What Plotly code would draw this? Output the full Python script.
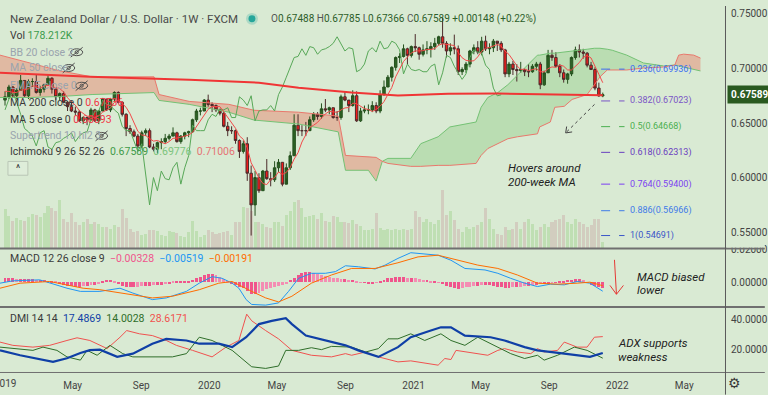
import plotly.graph_objects as go
import pandas as pd

BG = "#d9ead3"
FONT = "Roboto, 'Noto Sans', sans-serif"

# ---------------- weekly NZD/USD candles (first bar = week of 2018-12-31) ----------------
first_open = 0.6710
close = [
    0.6740, 0.6830, 0.6750, 0.6800, 0.6890, 0.6750, 0.6880, 0.6880, 0.6780, 0.6810,
    0.6850, 0.6910, 0.6810, 0.6740, 0.6770, 0.6690, 0.6650, 0.6610, 0.6600, 0.6520,
    0.6550, 0.6530, 0.6620, 0.6520, 0.6610, 0.6720, 0.6620, 0.6720, 0.6780, 0.6690,
    0.6580, 0.6450, 0.6420, 0.6380, 0.6290, 0.6410, 0.6430, 0.6280, 0.6260, 0.6320,
    0.6330, 0.6360, 0.6380, 0.6410, 0.6330, 0.6380, 0.6410, 0.6420, 0.6530, 0.6610,
    0.6610, 0.6710, 0.6670, 0.6660, 0.6620, 0.6590, 0.6470, 0.6430, 0.6430, 0.6340,
    0.6240, 0.6310, 0.6040, 0.5750, 0.6000, 0.5880, 0.6060, 0.5990, 0.5980, 0.6090,
    0.6140, 0.5940, 0.6090, 0.6200, 0.6480, 0.6430, 0.6430, 0.6430, 0.6530, 0.6580,
    0.6560, 0.6630, 0.6620, 0.6640, 0.6550, 0.6550, 0.6740, 0.6710, 0.6660, 0.6750,
    0.6520, 0.6610, 0.6620, 0.6620, 0.6660, 0.6610, 0.6760, 0.6830, 0.6920, 0.7010,
    0.7100, 0.7110, 0.7180, 0.7120, 0.7200, 0.7190, 0.7130, 0.7170, 0.7180, 0.7200,
    0.7230, 0.7290, 0.7230, 0.7160, 0.7190, 0.7180, 0.6970, 0.6990, 0.7040, 0.7160,
    0.7190, 0.7150, 0.7250, 0.7180, 0.7190, 0.7250, 0.7230, 0.7170, 0.6950, 0.7040,
    0.6990, 0.6980, 0.6990, 0.6970, 0.6970, 0.7020, 0.7040, 0.6850, 0.6960, 0.7120,
    0.7100, 0.7020, 0.6960, 0.6900, 0.6950, 0.7100, 0.7170, 0.7150, 0.7140, 0.7030,
    0.6990, 0.6820, 0.67488, 0.67589,
]
high = [
    0.6790, 0.6850, 0.6840, 0.6820, 0.6940, 0.6890, 0.6900, 0.6910, 0.6940, 0.6840,
    0.6860, 0.6940, 0.6920, 0.6830, 0.6780, 0.6790, 0.6700, 0.6700, 0.6650, 0.6620,
    0.6560, 0.6560, 0.6640, 0.6630, 0.6620, 0.6730, 0.6720, 0.6730, 0.6790, 0.6790,
    0.6700, 0.6590, 0.6480, 0.6440, 0.6400, 0.6430, 0.6450, 0.6450, 0.6310, 0.6330,
    0.6360, 0.6400, 0.6400, 0.6460, 0.6420, 0.6390, 0.6420, 0.6430, 0.6540, 0.6630,
    0.6640, 0.6720, 0.6760, 0.6690, 0.6670, 0.6630, 0.6600, 0.6510, 0.6470, 0.6440,
    0.6350, 0.6340, 0.6370, 0.6110, 0.6060, 0.6040, 0.6070, 0.6170, 0.6050, 0.6150,
    0.6170, 0.6140, 0.6130, 0.6240, 0.6580, 0.6580, 0.6480, 0.6510, 0.6560, 0.6600,
    0.6600, 0.6680, 0.6720, 0.6650, 0.6640, 0.6610, 0.6760, 0.6790, 0.6700, 0.6800,
    0.6790, 0.6640, 0.6660, 0.6670, 0.6700, 0.6690, 0.6800, 0.6890, 0.6940, 0.7020,
    0.7110, 0.7140, 0.7220, 0.7190, 0.7210, 0.7315, 0.7200, 0.7220, 0.7250, 0.7240,
    0.7280, 0.7300, 0.7465, 0.7250, 0.7230, 0.7310, 0.7210, 0.7010, 0.7060, 0.7170,
    0.7220, 0.7250, 0.7290, 0.7300, 0.7230, 0.7270, 0.7250, 0.7250, 0.7180, 0.7060,
    0.7070, 0.7040, 0.7060, 0.7000, 0.7040, 0.7040, 0.7060, 0.7060, 0.6980, 0.7170,
    0.7170, 0.7150, 0.7040, 0.6990, 0.6960, 0.7110, 0.7200, 0.7220, 0.7180, 0.7150,
    0.7060, 0.7010, 0.6870, 0.67785,
]
low = [
    0.6660, 0.6720, 0.6730, 0.6720, 0.6800, 0.6740, 0.6720, 0.6830, 0.6770, 0.6750,
    0.6780, 0.6840, 0.6770, 0.6710, 0.6710, 0.6680, 0.6610, 0.6600, 0.6570, 0.6510,
    0.6490, 0.6480, 0.6520, 0.6510, 0.6490, 0.6610, 0.6610, 0.6600, 0.6700, 0.6680,
    0.6560, 0.6380, 0.6400, 0.6370, 0.6270, 0.6270, 0.6380, 0.6270, 0.6240, 0.6220,
    0.6260, 0.6310, 0.6340, 0.6380, 0.6320, 0.6310, 0.6350, 0.6370, 0.6410, 0.6510,
    0.6570, 0.6610, 0.6650, 0.6600, 0.6600, 0.6570, 0.6460, 0.6380, 0.6400, 0.6310,
    0.6180, 0.6220, 0.5970, 0.5469, 0.5650, 0.5860, 0.5880, 0.5980, 0.5920, 0.5960,
    0.6050, 0.5920, 0.5990, 0.6070, 0.6200, 0.6380, 0.6380, 0.6380, 0.6430, 0.6510,
    0.6530, 0.6540, 0.6600, 0.6580, 0.6540, 0.6520, 0.6530, 0.6700, 0.6600, 0.6650,
    0.6510, 0.6510, 0.6590, 0.6580, 0.6600, 0.6590, 0.6590, 0.6750, 0.6830, 0.6880,
    0.6980, 0.7050, 0.7100, 0.7040, 0.7100, 0.7150, 0.7080, 0.7110, 0.7130, 0.7100,
    0.7170, 0.7210, 0.7190, 0.7100, 0.7120, 0.7130, 0.6940, 0.6940, 0.6960, 0.7010,
    0.7130, 0.7130, 0.7120, 0.7160, 0.7130, 0.7150, 0.7160, 0.7150, 0.6920, 0.6920,
    0.6940, 0.6880, 0.6960, 0.6930, 0.6920, 0.6960, 0.6980, 0.6810, 0.6840, 0.6970,
    0.7070, 0.7010, 0.6920, 0.6870, 0.6860, 0.6930, 0.7080, 0.7100, 0.7090, 0.7010,
    0.6990, 0.6800, 0.6740, 0.67366,
]
volume_k = [
    1179, 981, 831, 900, 861, 819, 930, 1029, 999, 930,
    1080, 1281, 1230, 1131, 1461, 879, 801, 1059, 780, 699,
    780, 879, 729, 780, 729, 630, 630, 579, 699, 630,
    1200, 900, 579, 501, 531, 381, 429, 561, 561, 531,
    399, 360, 531, 501, 459, 360, 330, 480, 831, 531,
    330, 399, 561, 480, 429, 459, 480, 531, 381, 801,
    780, 1260, 1230, 1131, 801, 780, 729, 630, 600, 801,
    780, 681, 999, 1131, 1401, 1461, 1230, 930, 960, 999,
    879, 1059, 831, 780, 960, 930, 780, 801, 759, 861,
    729, 660, 561, 561, 579, 1080, 600, 540, 570, 540,
    570, 540, 570, 540, 570, 1140, 930, 780, 870, 780,
    720, 840, 1770, 990, 1140, 840, 570, 480, 630, 570,
    630, 690, 780, 1230, 870, 570, 420, 390, 630, 540,
    570, 780, 570, 780, 870, 720, 540, 630, 720, 630,
    780, 840, 870, 990, 780, 720, 870, 780, 720, 630,
    690, 870, 870, 178.212,
]
ma5 = [
    0.6790, 0.6790, 0.6780, 0.6780, 0.6802, 0.6804, 0.6814, 0.6840, 0.6836, 0.6820,
    0.6840, 0.6846, 0.6832, 0.6824, 0.6816, 0.6784, 0.6732, 0.6692, 0.6664, 0.6614,
    0.6586, 0.6562, 0.6564, 0.6548, 0.6566, 0.6600, 0.6618, 0.6638, 0.6690, 0.6706,
    0.6678, 0.6644, 0.6584, 0.6504, 0.6424, 0.6390, 0.6386, 0.6358, 0.6334, 0.6340,
    0.6324, 0.6310, 0.6330, 0.6360, 0.6362, 0.6372, 0.6382, 0.6390, 0.6414, 0.6470,
    0.6516, 0.6576, 0.6626, 0.6652, 0.6654, 0.6650, 0.6602, 0.6554, 0.6508, 0.6452,
    0.6382, 0.6350, 0.6272, 0.6136, 0.6068, 0.5996, 0.5946, 0.5936, 0.5982, 0.6000,
    0.6052, 0.6028, 0.6048, 0.6092, 0.6170, 0.6228, 0.6326, 0.6394, 0.6460, 0.6480,
    0.6506, 0.6546, 0.6584, 0.6606, 0.6600, 0.6598, 0.6620, 0.6638, 0.6642, 0.6682,
    0.6676, 0.6650, 0.6632, 0.6624, 0.6606, 0.6624, 0.6654, 0.6696, 0.6756, 0.6826,
    0.6924, 0.6994, 0.7064, 0.7104, 0.7142, 0.7160, 0.7164, 0.7162, 0.7174, 0.7174,
    0.7182, 0.7214, 0.7226, 0.7222, 0.7220, 0.7210, 0.7146, 0.7098, 0.7074, 0.7068,
    0.7070, 0.7106, 0.7158, 0.7186, 0.7192, 0.7204, 0.7220, 0.7204, 0.7158, 0.7128,
    0.7076, 0.7026, 0.6990, 0.6994, 0.6980, 0.6986, 0.6998, 0.6970, 0.6968, 0.6998,
    0.7014, 0.7010, 0.7032, 0.7020, 0.6986, 0.6986, 0.7016, 0.7054, 0.7102, 0.7118,
    0.7096, 0.7026, 0.6946, 0.68693,
]

# ---------------- MA 200 (sampled vertices) ----------------
ma200_dates = ['2018-12-22', '2019-06-01', '2019-11-26', '2020-03-30', '2020-06-09', '2020-09-12',
               '2020-12-04', '2021-03-04', '2021-06-01', '2021-09-01', '2021-11-29', '2021-12-06']
ma200 = [0.6960, 0.6923, 0.6896, 0.6869, 0.6824, 0.6779, 0.6752, 0.6768, 0.6770, 0.6762, 0.6753, 0.67536]

# ---------------- Ichimoku cloud (leading spans, vertices) ----------------
kumo_dates = ['2018-12-22', '2019-02-14', '2019-04-09', '2019-06-05', '2019-09-24', '2019-10-03',
              '2019-11-26', '2020-02-05', '2020-03-21', '2020-06-09', '2020-08-19', '2020-09-01',
              '2020-10-12', '2020-10-26', '2020-11-06', '2020-11-16', '2020-12-27', '2021-01-14',
              '2021-02-14', '2021-03-07', '2021-04-23', '2021-05-02', '2021-05-14', '2021-06-01',
              '2021-06-19', '2021-07-06', '2021-08-11', '2021-08-15', '2021-09-03', '2021-09-11',
              '2021-09-28', '2021-10-12', '2021-11-08', '2021-11-21', '2021-12-01', '2021-12-14',
              '2021-12-23', '2022-01-18', '2022-02-17', '2022-03-25', '2022-04-14', '2022-04-21',
              '2022-04-30', '2022-05-18', '2022-05-30']
span_a = [0.6734, 0.6734, 0.6743, 0.6761, 0.6779, 0.6707,
          0.6671, 0.6599, 0.6527, 0.6491, 0.6419, 0.6067,
          0.6067, 0.5968, 0.6149, 0.6176, 0.6176, 0.6311,
          0.6374, 0.6464, 0.6509, 0.6644, 0.6734, 0.6779,
          0.6851, 0.6941, 0.7122, 0.7122, 0.7140, 0.7140,
          0.7149, 0.7158, 0.7176, 0.7185, 0.7185, 0.7176,
          0.7167, 0.7122, 0.7050, 0.7023, 0.7031, 0.7023,
          0.7013, 0.6995, 0.6977]
span_b = [0.7122, 0.7050, 0.6977, 0.6923, 0.6923, 0.6761,
          0.6698, 0.6671, 0.6617, 0.6599, 0.6563, 0.6203,
          0.6194, 0.6185, 0.6149, 0.6130, 0.6103, 0.6103,
          0.6112, 0.6112, 0.6130, 0.6203, 0.6266, 0.6311,
          0.6356, 0.6374, 0.6401, 0.6464, 0.6509, 0.6644,
          0.6653, 0.6716, 0.6761, 0.6851, 0.6923, 0.6986,
          0.6986, 0.6986, 0.7004, 0.7013, 0.7031, 0.7122,
          0.7131, 0.7122, 0.7095]
lag_shift = 26

# ---------------- MACD 12 26 9 ----------------
macd_dates = ['2018-12-22', '2019-01-14', '2019-03-03', '2019-04-21', '2019-05-15', '2019-06-19',
              '2019-07-25', '2019-08-17', '2019-09-21', '2019-10-16', '2019-11-21', '2019-12-14',
              '2020-01-06', '2020-01-24', '2020-02-11', '2020-02-23', '2020-03-07', '2020-03-17',
              '2020-04-11', '2020-05-04', '2020-05-22', '2020-06-09', '2020-07-02', '2020-07-27',
              '2020-08-14', '2020-09-01', '2020-09-24', '2020-10-24', '2020-11-11', '2020-12-04',
              '2020-12-27', '2021-02-14', '2021-03-09', '2021-04-03', '2021-05-09', '2021-06-01',
              '2021-06-24', '2021-07-19', '2021-08-11', '2021-09-03', '2021-09-28', '2021-10-21',
              '2021-11-13', '2021-12-06']
macd_line = [-0.0004, 0.0010, 0.0016, -0.0034, -0.0053, -0.0053,
             -0.0034, -0.0063, -0.0102, -0.0092, -0.0053, -0.0004,
             0.0035, 0.0025, -0.0004, -0.0034, -0.0102, -0.0131,
             -0.0135, -0.0122, -0.0053, 0.0025, 0.0055, 0.0055,
             0.0065, 0.0100, 0.0094, 0.0081, 0.0104, 0.0144,
             0.0178, 0.0163, 0.0133, 0.0084, 0.0075, 0.0055,
             0.0025, -0.0004, -0.0024, -0.0010, -0.0014, 0.0006,
             -0.0004, -0.00519]
signal_dates = ['2018-12-22', '2019-01-27', '2019-03-21', '2019-05-20', '2019-06-19', '2019-08-17',
                '2019-09-21', '2019-10-27', '2019-12-14', '2020-01-18', '2020-02-11', '2020-03-17',
                '2020-04-11', '2020-05-04', '2020-05-28', '2020-07-02', '2020-08-07', '2020-09-12',
                '2020-10-24', '2020-12-04', '2021-01-09', '2021-02-14', '2021-04-03', '2021-04-26',
                '2021-06-01', '2021-07-06', '2021-08-11', '2021-09-16', '2021-10-21', '2021-11-13',
                '2021-12-06']
signal_line = [-0.0034, -0.0004, 0.0006, -0.0034, -0.0043, -0.0072,
               -0.0092, -0.0082, -0.0043, -0.0004, 0.0006, -0.0053,
               -0.0092, -0.0116, -0.0082, -0.0004, 0.0045, 0.0084,
               0.0084, 0.0118, 0.0153, 0.0163, 0.0123, 0.0104,
               0.0084, 0.0045, -0.0004, -0.0010, -0.0004, 0.0002,
               -0.00191]
macd_hist = [
    0.0024, 0.0024, 0.0024, 0.0018, 0.0018, 0.0018, 0.0018, 0.0018, 0.0012, 0.0012,
    0.0012, 0.0006, 0.0006, 0.0003, -0.0006, -0.0012, -0.0018, -0.0018, -0.0024, -0.0024,
    -0.0018, -0.0018, -0.0012, -0.0012, -0.0006, 0.0006, 0.0012, 0.0012, 0.0006, -0.0006,
    -0.0018, -0.0029, -0.0029, -0.0029, -0.0024, -0.0018, -0.0018, -0.0018, -0.0012, -0.0012,
    -0.0012, -0.0006, -0.0006, 0.0003, 0.0006, 0.0006, 0.0006, 0.0006, 0.0012, 0.0024,
    0.0035, 0.0047, 0.0053, 0.0053, 0.0047, 0.0035, 0.0018, 0.0006, -0.0006, -0.0012,
    -0.0024, -0.0035, -0.0053, -0.0071, -0.0071, -0.0065, -0.0053, -0.0041, -0.0035, -0.0024,
    -0.0018, -0.0012, -0.0006, 0.0012, 0.0029, 0.0047, 0.0059, 0.0065, 0.0065, 0.0059,
    0.0053, 0.0047, 0.0041, 0.0035, 0.0029, 0.0024, 0.0018, 0.0018, 0.0012, 0.0012,
    0.0006, 0.0001, -0.0001, -0.0006, -0.0006, 0.0001, 0.0006, 0.0012, 0.0024, 0.0029,
    0.0035, 0.0035, 0.0035, 0.0029, 0.0029, 0.0024, 0.0018, 0.0012, 0.0012, 0.0006,
    0.0006, 0.0001, -0.0006, -0.0018, -0.0029, -0.0035, -0.0041, -0.0035, -0.0029, -0.0024,
    -0.0018, -0.0018, -0.0012, -0.0012, -0.0012, -0.0018, -0.0024, -0.0029, -0.0035, -0.0035,
    -0.0029, -0.0029, -0.0024, -0.0018, -0.0018, -0.0012, -0.0012, -0.0006, -0.0006, -0.0006,
    -0.0001, 0.0001, 0.0006, 0.0006, 0.0012, 0.0012, 0.0018, 0.0018, 0.0012, -0.0001,
    -0.0012, -0.0018, -0.0029, -0.00328,
]

# ---------------- DMI 14 14 ----------------
adx_dates = ['2018-12-22', '2019-01-27', '2019-03-27', '2019-04-21', '2019-05-15', '2019-06-01',
             '2019-06-19', '2019-07-20', '2019-08-17', '2019-09-21', '2019-10-16', '2019-11-21',
             '2019-12-14', '2020-01-18', '2020-02-11', '2020-03-07', '2020-03-30', '2020-04-22',
             '2020-05-17', '2020-05-28', '2020-06-22', '2020-07-27', '2020-09-01', '2020-09-24',
             '2020-10-30', '2020-12-04', '2020-12-27', '2021-02-01', '2021-02-19', '2021-03-09',
             '2021-04-03', '2021-05-19', '2021-06-13', '2021-07-19', '2021-08-11', '2021-09-28',
             '2021-10-21', '2021-11-13', '2021-12-06']
adx = [19.3, 16.0, 11.5, 14.0, 17.5, 19.5,
       19.8, 14.9, 17.1, 23.8, 27.1, 26.0,
       23.8, 23.8, 21.5, 28.2, 37.1, 39.3,
       41.1, 37.1, 29.3, 26.0, 22.7, 19.3,
       14.9, 21.5, 28.2, 32.7, 34.9, 34.9,
       29.3, 28.2, 26.0, 21.5, 19.3, 17.1,
       16.0, 14.9, 17.4869]
pdi_dates = ['2018-12-22', '2019-01-14', '2019-02-19', '2019-03-09', '2019-04-03', '2019-04-21',
             '2019-05-15', '2019-05-27', '2019-06-14', '2019-07-07', '2019-07-30', '2019-08-17',
             '2019-09-28', '2019-10-27', '2019-11-21', '2019-12-14', '2020-01-06', '2020-02-11',
             '2020-03-17', '2020-04-11', '2020-05-04', '2020-05-17', '2020-06-09', '2020-07-02',
             '2020-07-20', '2020-08-07', '2020-09-12', '2020-10-07', '2020-10-30', '2020-11-16',
             '2020-12-04', '2020-12-27', '2021-01-21', '2021-02-19', '2021-03-09', '2021-04-03',
             '2021-04-26', '2021-05-19', '2021-06-24', '2021-07-19', '2021-08-11', '2021-08-23',
             '2021-09-16', '2021-10-16', '2021-11-08', '2021-12-06']
pdi = [21.5, 20.5, 19.3, 21.5, 19.3, 14.9,
       12.7, 19.3, 16.0, 22.7, 17.1, 14.9,
       14.9, 14.9, 17.1, 28.2, 26.0, 19.3,
       8.2, 7.1, 8.7, 19.3, 19.3, 21.1,
       19.8, 22.0, 21.5, 18.2, 20.5, 27.1,
       27.1, 30.5, 26.0, 30.5, 26.0, 22.7,
       28.2, 23.8, 17.1, 13.8, 16.0, 12.7,
       16.0, 21.5, 19.3, 14.0028]
mdi_dates = ['2018-12-22', '2019-01-14', '2019-02-19', '2019-03-21', '2019-04-21', '2019-05-09',
             '2019-06-01', '2019-07-02', '2019-07-25', '2019-08-06', '2019-08-29', '2019-09-21',
             '2019-10-16', '2019-11-03', '2019-12-02', '2020-01-06', '2020-01-31', '2020-02-23',
             '2020-03-08', '2020-03-17', '2020-04-11', '2020-05-04', '2020-05-28', '2020-07-02',
             '2020-08-07', '2020-09-01', '2020-09-12', '2020-10-07', '2020-10-30', '2020-12-04',
             '2020-12-27', '2021-01-21', '2021-02-14', '2021-02-26', '2021-03-09', '2021-03-18',
             '2021-04-26', '2021-05-14', '2021-06-01', '2021-06-13', '2021-07-06', '2021-07-30',
             '2021-08-11', '2021-08-23', '2021-09-16', '2021-09-28', '2021-10-21', '2021-11-08',
             '2021-11-21', '2021-12-06']
mdi = [24.9, 22.7, 21.5, 22.7, 26.0, 27.8,
       26.0, 20.5, 28.2, 32.7, 30.5, 29.3,
       26.0, 22.7, 19.3, 14.9, 21.5, 26.0,
       43.8, 39.3, 32.7, 27.1, 19.3, 16.0,
       14.9, 17.1, 16.0, 18.2, 14.9, 11.5,
       12.2, 10.9, 9.3, 13.8, 13.1, 19.3,
       17.1, 16.0, 19.3, 20.5, 18.2, 17.1,
       20.5, 18.2, 19.3, 24.9, 21.5, 21.5,
       28.2, 28.6171]

# ---------------- Fibonacci levels ----------------
fib_ratios = ['0.236', '0.382', '0.5', '0.618', '0.764', '0.886', '1']
fib_prices = [0.69936, 0.67023, 0.64668, 0.62313, 0.59400, 0.56966, 0.54691]
fib_colors = ['#3d6ef2', '#7a55c6', '#4caf50', '#6a40c0', '#7b3ff2', '#3f7be8', '#3a56c8']
fib_start, fib_end = '2021-12-03', '2022-01-14'

# ---------------- axes ticks ----------------
price_ticks = [0.55, 0.60, 0.65, 0.70, 0.75]
macd_ticks = [0.0, 0.02]
dmi_ticks = [20, 40]
month_ticks = ['2019-05-01', '2019-09-01', '2020-01-01', '2020-05-01', '2020-09-01',
               '2021-01-01', '2021-05-01', '2021-09-01', '2022-01-01', '2022-05-01']
month_labels = ['May', 'Sep', '2020', 'May', 'Sep', '2021', 'May', 'Sep', '2022', 'May']
edge_year_label = '2019'

# =====================================================================
weeks = pd.date_range('2018-12-31', periods=len(close), freq='7D')
opens = [first_open] + close[:-1]
WEEK_MS = 7 * 24 * 3600 * 1000

W, H = 768, 395
PW, PH = 728, 372


def px(x):
    return x / PW


def py(y):
    return 1 - y / PH


fig = go.Figure()

# ---- cloud fills (base price axis y) ----
signs = [(1 if a > b else (-1 if a < b else 0)) for a, b in zip(span_a, span_b)]
groups = []
cur, cur_sign = [], None
for i, s in enumerate(signs):
    if s == 0:
        cur.append(i)
        groups.append((cur, cur_sign))
        cur, cur_sign = [i], None
    else:
        cur.append(i)
        cur_sign = s
groups.append((cur, cur_sign))
for idx, s in groups:
    if len(idx) < 2:
        continue
    xs = [kumo_dates[j] for j in idx] + [kumo_dates[j] for j in reversed(idx)]
    ys = [span_a[j] for j in idx] + [span_b[j] for j in reversed(idx)]
    fill = 'rgba(120,192,110,0.32)' if s == 1 else 'rgba(236,112,90,0.40)'
    fig.add_trace(go.Scatter(x=xs, y=ys, xaxis='x', yaxis='y', mode='lines', fill='toself',
                             fillcolor=fill, line=dict(width=0), hoverinfo='skip'))

# ---- volume (overlay y2) ----
vol_colors = ['#bfdfb3' if c >= o else '#d2cdbf' for o, c in zip(opens, close)]
fig.add_trace(go.Bar(x=weeks, y=volume_k, xaxis='x', yaxis='y2', marker_color=vol_colors,
                     marker_line_width=0, width=WEEK_MS * 0.78, hoverinfo='skip'))

# ---- candles + lines (overlay y3) ----
fig.add_trace(go.Candlestick(
    x=weeks, open=opens, high=high, low=low, close=close, xaxis='x', yaxis='y3',
    increasing=dict(line=dict(color='#24501d', width=1), fillcolor='#2c6224'),
    decreasing=dict(line=dict(color='#4b2b2b', width=1), fillcolor='#f21b1b'),
    whiskerwidth=0, hoverinfo='skip'))
fig.add_trace(go.Scatter(x=kumo_dates, y=span_a, xaxis='x', yaxis='y3', mode='lines',
                         line=dict(color='#74c274', width=1), hoverinfo='skip'))
fig.add_trace(go.Scatter(x=kumo_dates, y=span_b, xaxis='x', yaxis='y3', mode='lines',
                         line=dict(color='#e9786c', width=1), hoverinfo='skip'))
fig.add_trace(go.Scatter(x=weeks[:-lag_shift], y=close[lag_shift:], xaxis='x', yaxis='y3',
                         mode='lines', line=dict(color='#58a858', width=1), hoverinfo='skip'))
fig.add_trace(go.Scatter(x=ma200_dates, y=ma200, xaxis='x', yaxis='y3', mode='lines',
                         line=dict(color='#f03535', width=2), hoverinfo='skip'))
fig.add_trace(go.Scatter(x=weeks, y=ma5, xaxis='x', yaxis='y3', mode='lines',
                         line=dict(color='#f24a4a', width=1), hoverinfo='skip'))

# ---- MACD (y4) ----
hist_colors = []
for i, h in enumerate(macd_hist):
    prev = macd_hist[i - 1] if i else h
    hist_colors.append('#f0558c' if abs(h) >= abs(prev) else '#f48db3')
fig.add_trace(go.Bar(x=weeks, y=macd_hist, xaxis='x', yaxis='y4', marker_color=hist_colors,
                     marker_line_width=0, width=WEEK_MS * 0.75, hoverinfo='skip'))
fig.add_trace(go.Scatter(x=macd_dates, y=macd_line, xaxis='x', yaxis='y4', mode='lines',
                         line=dict(color='#2196f3', width=1), hoverinfo='skip'))
fig.add_trace(go.Scatter(x=signal_dates, y=signal_line, xaxis='x', yaxis='y4', mode='lines',
                         line=dict(color='#ff6d00', width=1), hoverinfo='skip'))

# ---- DMI (y5) ----
fig.add_trace(go.Scatter(x=mdi_dates, y=mdi, xaxis='x', yaxis='y5', mode='lines',
                         line=dict(color='#f0524f', width=1), hoverinfo='skip'))
fig.add_trace(go.Scatter(x=pdi_dates, y=pdi, xaxis='x', yaxis='y5', mode='lines',
                         line=dict(color='#2f6e2a', width=1), hoverinfo='skip'))
fig.add_trace(go.Scatter(x=adx_dates, y=adx, xaxis='x', yaxis='y5', mode='lines',
                         line=dict(color='#0f3fa6', width=2.2), hoverinfo='skip'))

# ---------------- layout ----------------
y_main = [0.53556, 0.75721]
axis_font = dict(size=10, color='#444444', family=FONT)
fig.update_layout(
    width=W, height=H, margin=dict(l=0, r=W - PW, t=0, b=H - PH),
    paper_bgcolor=BG, plot_bgcolor=BG, showlegend=False, font=dict(family=FONT),
    bargap=0, boxgap=0.1,
    xaxis=dict(type='date', domain=[0, 1], anchor='y5', range=['2018-12-22', '2022-07-13'],
               tickmode='array', tickvals=month_ticks, ticktext=month_labels, tickfont=axis_font,
               showgrid=False, zeroline=False, showline=False, ticks='',
               rangeslider=dict(visible=False), ticklabelstandoff=6),
    yaxis=dict(domain=[0.339, 1], range=y_main, side='right', anchor='x', showgrid=False,
               zeroline=False, tickmode='array', tickvals=price_ticks,
               ticktext=[f'{v:.5f}' for v in price_ticks], tickfont=axis_font, ticks='',
               ticklabelstandoff=5),
    yaxis2=dict(overlaying='y', range=[0, 7380], visible=False),
    yaxis3=dict(overlaying='y', range=y_main, visible=False),
    yaxis4=dict(domain=[0.18, 0.336], range=[-0.0141, 0.02], side='right', anchor='x',
                showgrid=False, zeroline=False, tickmode='array', tickvals=macd_ticks,
                ticktext=[f'{v:.5f}' for v in macd_ticks], tickfont=axis_font, ticks='',
                ticklabelstandoff=5),
    yaxis5=dict(domain=[0, 0.175], range=[4.67, 48], side='right', anchor='x',
                showgrid=False, zeroline=False, tickmode='array', tickvals=dmi_ticks,
                ticktext=[f'{v:.4f}' for v in dmi_ticks], tickfont=axis_font, ticks='',
                ticklabelstandoff=5),
)

shapes = []
annos = []

# fib level dashes + labels
for r, p, c in zip(fib_ratios, fib_prices, fib_colors):
    shapes.append(dict(type='line', xref='x', yref='y', x0=fib_start, x1=fib_end, y0=p, y1=p,
                       line=dict(color=c, width=1, dash='dash')))
    annos.append(dict(xref='paper', yref='y', x=px(631), y=p, text=f'{r}({p:.5f})',
                      showarrow=False, xanchor='left', yanchor='middle',
                      font=dict(size=9, color=c, family=FONT)))

# panel separators and price-scale border
sep = '#707070'
shapes += [
    dict(type='line', xref='paper', yref='paper', x0=0, x1=W / PW, y0=py(246.5), y1=py(246.5),
         line=dict(color=sep, width=2)),
    dict(type='line', xref='paper', yref='paper', x0=0, x1=W / PW, y0=py(306), y1=py(306),
         line=dict(color=sep, width=2)),
    dict(type='line', xref='paper', yref='paper', x0=0, x1=W / PW, y0=py(372.5), y1=py(372.5),
         line=dict(color=sep, width=1)),
    dict(type='line', xref='paper', yref='paper', x0=px(728.5), x1=px(728.5), y0=1, y1=py(H),
         line=dict(color='#5a5a5a', width=1)),
    # hide upper half of the clipped MACD top label
    dict(type='rect', xref='paper', yref='paper', x0=px(729.5), x1=W / PW, y0=py(237),
         y1=py(245.5), fillcolor=BG, line=dict(width=0)),
]

# dashed pointer arrow towards the note
ax0, ay0, ax1, ay1 = 597, 100, 568, 129
shapes.append(dict(type='line', xref='paper', yref='paper', x0=px(ax0), y0=py(ay0), x1=px(ax1),
                   y1=py(ay1), line=dict(color='#444', width=1, dash='dot')))
shapes.append(dict(type='line', xref='paper', yref='paper', x0=px(ax1), y0=py(ay1), x1=px(569),
                   y1=py(122.5), line=dict(color='#444', width=1)))
shapes.append(dict(type='line', xref='paper', yref='paper', x0=px(ax1), y0=py(ay1), x1=px(574.5),
                   y1=py(128), line=dict(color='#444', width=1)))
# red MACD arrow
shapes.append(dict(type='line', xref='paper', yref='paper', x0=px(617), y0=py(258), x1=px(619),
                   y1=py(293), line=dict(color='#e53935', width=1)))
shapes.append(dict(type='line', xref='paper', yref='paper', x0=px(619), y0=py(293), x1=px(612.5),
                   y1=py(284), line=dict(color='#e53935', width=1)))
shapes.append(dict(type='line', xref='paper', yref='paper', x0=px(619), y0=py(293), x1=px(626),
                   y1=py(284), line=dict(color='#e53935', width=1)))

# header dot
shapes.append(dict(type='circle', xref='paper', yref='paper', x0=px(247), x1=px(259), y0=py(19),
                   y1=py(7), fillcolor='rgba(38,166,154,0.25)', line=dict(width=0)))
shapes.append(dict(type='circle', xref='paper', yref='paper', x0=px(249.5), x1=px(256.5),
                   y0=py(16.5), y1=py(9.5), fillcolor='#26a69a', line=dict(width=0)))


def eye_off(cx, cy):
    c = '#4d4d4d'
    return [
        dict(type='circle', xref='paper', yref='paper', x0=px(cx - 6), x1=px(cx + 6),
             y0=py(cy + 3.5), y1=py(cy - 3.5), line=dict(color=c, width=1)),
        dict(type='circle', xref='paper', yref='paper', x0=px(cx - 1.6), x1=px(cx + 1.6),
             y0=py(cy + 1.6), y1=py(cy - 1.6), line=dict(color=c, width=1)),
        dict(type='line', xref='paper', yref='paper', x0=px(cx - 6), x1=px(cx + 6),
             y0=py(cy + 5), y1=py(cy - 5), line=dict(color=c, width=1)),
    ]


for cx, cy in [(77, 47), (69, 63), (82, 81), (102, 132)]:
    shapes += eye_off(cx, cy)

# collapse button
shapes.append(dict(type='rect', xref='paper', yref='paper', x0=px(8), x1=px(28), y0=py(172),
                   y1=py(158), line=dict(color='#b9c6b6', width=1),
                   fillcolor='rgba(255,255,255,0.15)'))


def txt(x, y, text, size=10.5, color='#3a3a3a', anchor='left'):
    annos.append(dict(xref='paper', yref='paper', x=px(x), y=py(y), text=text, showarrow=False,
                      xanchor=anchor, yanchor='middle',
                      font=dict(size=size, color=color, family=FONT)))


GREY = '#9aa4ae'
RED = '#f23645'
txt(8, 13, 'New Zealand Dollar / U.S. Dollar · 1W · FXCM', size=11.5, color='#4a4a4a')
ohlc_val = '#2d5e2a'
txt(270, 13, ('<span style="color:#555">O</span>0.67488 <span style="color:#555">H</span>0.67785 '
              '<span style="color:#555">L</span>0.67366 <span style="color:#555">C</span>0.67589 '
              '+0.00148 (+0.22%)'), size=10, color=ohlc_val)
txt(8, 30, 'Vol <span style="color:#3b9a4b">178.212K</span>', size=10.5)
txt(8, 47, 'BB 20 close 2', size=10.5, color=GREY)
txt(8, 63, 'MA 50 close', size=10.5, color=GREY)
txt(8, 81, 'EMA 5 close 0', size=10.5, color=GREY)
txt(8, 98, f'MA 200 close 0 <span style="color:{RED}">0.67536</span>', size=10.5)
txt(8, 115, f'MA 5 close 0 <span style="color:{RED}">0.68693</span>', size=10.5)
txt(8, 132, 'Supertrend 10 hl2 3', size=10.5, color=GREY)
txt(8, 148, ('Ichimoku 9 26 52 26  <span style="color:#3f9a4a">0.67589</span>  '
             '<span style="color:#7cc47c">0.69776</span>  '
             '<span style="color:#e57373">0.71006</span>'), size=10.5)
txt(18, 165, '^', size=10, color='#333', anchor='center')
txt(8, 257, ('MACD 12 26 close 9  <span style="color:#f0558c">−0.00328</span>  '
             '<span style="color:#2196f3">−0.00519</span>  '
             '<span style="color:#ff6d00">−0.00191</span>'), size=10.5)
txt(8, 318, ('DMI 14 14  <span style="color:#0f3fa6">17.4869</span>  '
             '<span style="color:#2f6e2a">14.0028</span>  '
             '<span style="color:#f0524f">28.6171</span>'), size=10.5)

# notes
txt(508, 165, '<i>Hovers around</i>', size=11.5, color='#222')
txt(508, 179, '<i>200-week MA</i>', size=11.5, color='#222')
txt(638, 275, '<i>MACD biased</i>', size=11.5, color='#222')
txt(638, 289, '<i>lower</i>', size=11.5, color='#222')
txt(619, 343, '<i>ADX supports</i>', size=11.5, color='#222')
txt(619, 357, '<i>weakness</i>', size=11.5, color='#222')

# left-edge year label (partially outside the chart, as in the source)
txt(5, 384, edge_year_label, size=10, color='#444444', anchor='center')

# last price tag
annos.append(dict(xref='paper', yref='y', x=px(730), y=close[-1], text=f'<b>{close[-1]:.5f}</b>',
                  showarrow=False, xanchor='left', yanchor='middle', bgcolor='#2a5a20',
                  borderpad=3, font=dict(size=10, color='white', family=FONT)))
# settings gear
txt(738, 383, '⚙', size=14, color='#3a3a3a', anchor='center')

fig.update_layout(shapes=shapes, annotations=annos)
fig.write_html('out.html', config={'displayModeBar': False},
               post_script="document.body.style.margin='0';document.body.style.overflow='hidden';")
